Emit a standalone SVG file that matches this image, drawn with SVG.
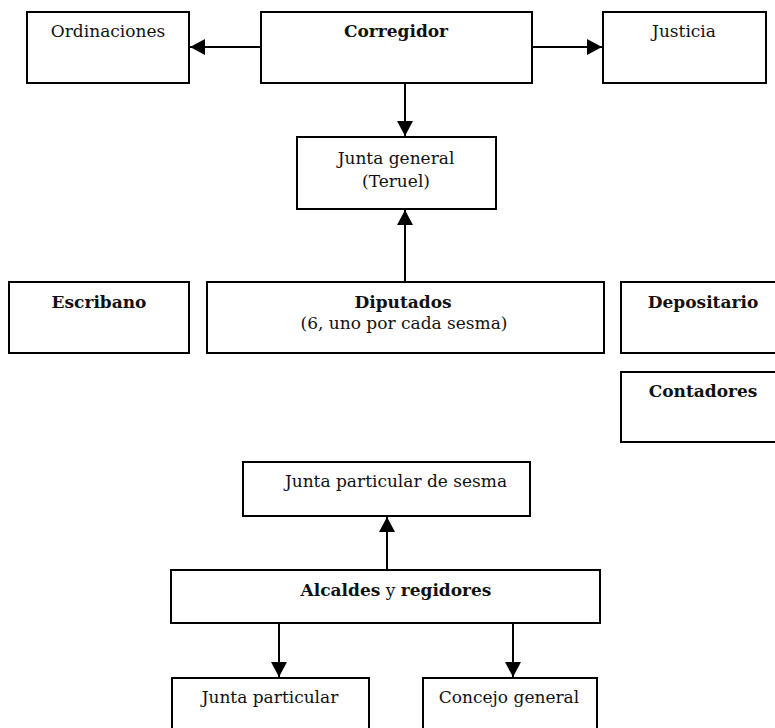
<svg xmlns="http://www.w3.org/2000/svg" width="775" height="728" viewBox="0 0 775 728">
<style>
.box{fill:#fff;stroke:#000;stroke-width:2}
.t{font-family:"DejaVu Serif","Liberation Serif",serif;font-size:17px;fill:#111;text-anchor:middle}
.b{font-weight:bold}
.c{stroke:#000;stroke-width:2;fill:none;marker-end:url(#ah)}
</style>
<defs>
<marker id="ah" markerUnits="userSpaceOnUse" markerWidth="15" markerHeight="16" refX="15" refY="8" orient="auto">
<path d="M0,0 L15,8 L0,16 Z" fill="#000"/>
</marker>
</defs>
<rect width="775" height="728" fill="#fff"/>
<g id="ordinaciones"><rect class="box" x="27" y="12" width="162" height="71"/><text class="t" x="108" y="37">Ordinaciones</text></g>
<g id="corregidor"><rect class="box" x="261" y="12" width="271" height="71"/><text class="t b" x="396" y="37">Corregidor</text></g>
<g id="justicia"><rect class="box" x="603" y="12" width="163" height="71"/><text class="t" x="684" y="37">Justicia</text></g>
<g id="junta-general"><rect class="box" x="297" y="137" width="199" height="72"/><text class="t" x="396" y="164">Junta general</text><text class="t" x="396" y="187">(Teruel)</text></g>
<g id="escribano"><rect class="box" x="9" y="282" width="180" height="71"/><text class="t b" x="99" y="308">Escribano</text></g>
<g id="diputados"><rect class="box" x="207" y="282" width="397" height="71"/><text class="t b" x="403" y="308">Diputados</text><text class="t" x="404" y="329">(6, uno por cada sesma)</text></g>
<g id="depositario"><rect class="box" x="621" y="282" width="170" height="71"/><text class="t b" x="703" y="308">Depositario</text></g>
<g id="contadores"><rect class="box" x="621" y="372" width="170" height="70"/><text class="t b" x="703" y="397">Contadores</text></g>
<g id="junta-particular-sesma"><rect class="box" x="243" y="462" width="287" height="54"/><text class="t" x="396" y="487">Junta particular de sesma</text></g>
<g id="alcaldes"><rect class="box" x="171" y="570" width="429" height="53"/><text class="t" x="396" y="596"><tspan class="b">Alcaldes</tspan> y <tspan class="b">regidores</tspan></text></g>
<g id="junta-particular"><rect class="box" x="172" y="678" width="197" height="70"/><text class="t" x="270" y="703">Junta particular</text></g>
<g id="concejo-general"><rect class="box" x="423" y="678" width="174" height="70"/><text class="t" x="509" y="703">Concejo general</text></g>
<g id="connectors">
<line class="c" x1="261" y1="47" x2="190" y2="47"/>
<line class="c" x1="532" y1="47" x2="602" y2="47"/>
<line class="c" x1="405" y1="83" x2="405" y2="136"/>
<line class="c" x1="405" y1="282" x2="405" y2="210"/>
<line class="c" x1="387" y1="570" x2="387" y2="517"/>
<line class="c" x1="279" y1="623" x2="279" y2="677"/>
<line class="c" x1="513" y1="623" x2="513" y2="677"/>
</g>
</svg>
